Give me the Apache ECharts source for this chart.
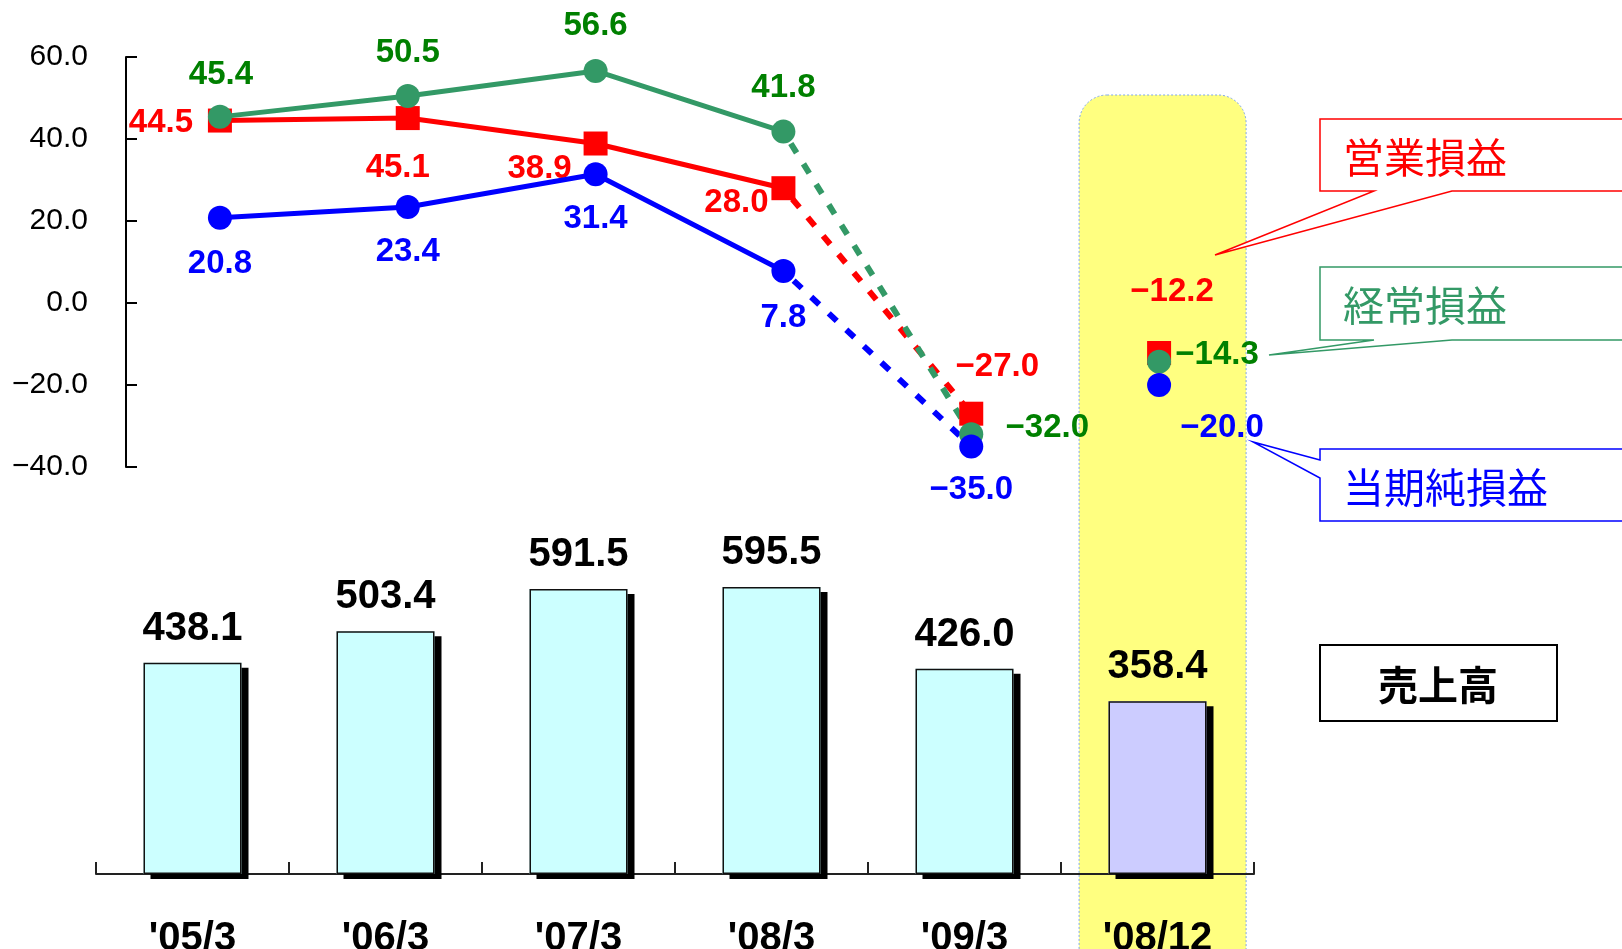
<!DOCTYPE html>
<html><head><meta charset="utf-8">
<script src="https://cdn.jsdelivr.net/npm/echarts@6/dist/echarts.min.js"></script>
<style>html,body{margin:0;padding:0;background:#fff}#c{width:1622px;height:949px}</style>
</head><body><div id="c"></div>
<script>
// ---- data ----
const categories = ["'05/3", "'06/3", "'07/3", "'08/3", "'09/3", "'08/12"];
const sales = [438.1, 503.4, 591.5, 595.5, 426.0, 358.4];
const operatingIncome = [44.5, 45.1, 38.9, 28.0, -27.0, -12.2];
const ordinaryIncome = [45.4, 50.5, 56.6, 41.8, -32.0, -14.3];
const netIncome = [20.8, 23.4, 31.4, 7.8, -35.0, -20.0];
const seriesNames = ['営業損益', '経常損益', '当期純損益'];
const salesName = '売上高';
const lastActualIdx = 3;   // '08/3
const forecastIdx = 4;     // '09/3 (forecast, joined by dotted line)
const highlightIdx = 5;    // '08/12

// ---- label placement (style only: px offsets of each label from its point) ----
const opLabelOffsets = [[-59, 2], [-10, 50], [-56, 25], [-47, 15], [26, -47], [13, -61]];
const ordLabelOffsets = [[1, -42], [0, -43], [0, -45], [0, -44], [76, -6], [58, -7]];
const netLabelOffsets = [[0, 46], [0, 45], [0, 45], [0, 47], [0, 43], [63, 43]];

const NUM_FONT = 'Liberation Sans';
const JP_FONT = 'Noto Sans CJK JP';

function fmt(v) { const s = Math.abs(v).toFixed(1); return v < 0 ? '\u2212' + s : s; }

function lineGroup(name, values, offsets, color, labelColor, symbol, z) {
  const labelBase = {
    show: true, position: 'inside', color: labelColor, fontFamily: NUM_FONT,
    fontWeight: 'bold', fontSize: 33, formatter: p => fmt(p.value)
  };
  const item = (v, i) => ({ value: v, label: { offset: offsets[i] } });
  return [
    { type: 'line', name: name + '_f', xAxisIndex: 0, yAxisIndex: 0, z: 1,
      data: values.map((v, i) => (i === lastActualIdx || i === forecastIdx) ? v : '-'),
      symbol: 'none', showSymbol: false, connectNulls: false,
      lineStyle: { color, width: 6, type: [11, 13], dashOffset: -14 } },
    { type: 'line', name, xAxisIndex: 0, yAxisIndex: 0, z,
      data: values.map((v, i) => i <= lastActualIdx ? item(v, i) : '-'),
      symbol, symbolSize: 24, showAllSymbol: true,
      lineStyle: { color, width: 5 }, itemStyle: { color }, label: labelBase },
    { type: 'scatter', name: name + '_p', xAxisIndex: 0, yAxisIndex: 0, z,
      data: values.map((v, i) => i >= forecastIdx ? item(v, i) : '-'),
      symbol, symbolSize: 24, itemStyle: { color, opacity: 1 }, label: labelBase }
  ];
}

const chart = echarts.init(document.getElementById('c'), null, { renderer: 'canvas' });

const barColors = sales.map((v, i) => i === highlightIdx ? '#CCCCFF' : '#CCFFFF');

const option = {
  animation: false,
  backgroundColor: '#ffffff',
  grid: [
    { left: 126, top: 57, width: 1127, height: 410, outerBoundsMode: 'none', containLabel: false },
    { left: 96, top: 392, width: 1158, height: 482, outerBoundsMode: 'none', containLabel: false }
  ],
  xAxis: [
    { type: 'category', gridIndex: 0, data: categories, boundaryGap: true, show: false },
    { type: 'category', gridIndex: 1, data: categories, boundaryGap: true,
      axisLine: { show: true, lineStyle: { color: '#222', width: 2 } },
      axisTick: { show: true, inside: true, length: 12, interval: 0, lineStyle: { color: '#222', width: 2 } },
      axisLabel: { margin: 45, fontSize: 40, fontWeight: 'bold', color: '#000', fontFamily: NUM_FONT, lineHeight: 40 } }
  ],
  yAxis: [
    { type: 'value', gridIndex: 0, min: -40, max: 60, interval: 20,
      axisLine: { show: true, lineStyle: { color: '#000', width: 2 } },
      axisTick: { show: true, inside: true, length: 11, lineStyle: { color: '#000', width: 2 } },
      splitLine: { show: false },
      axisLabel: { margin: 38, fontSize: 30, color: '#000', fontFamily: NUM_FONT, padding: [6, 0, 0, 0], formatter: v => fmt(v) } },
    { type: 'value', gridIndex: 1, min: 0, max: 1000, show: false, splitLine: { show: false } }
  ],
  series: [
    { type: 'bar', name: salesName + '_s', xAxisIndex: 1, yAxisIndex: 1, barWidth: 98, barGap: '-100%', z: 2,
      data: sales.map((v, i) => ({ value: v, itemStyle: { color: barColors[i] } })),
      itemStyle: { borderWidth: 0, shadowColor: '#000', shadowOffsetX: 7, shadowOffsetY: 5, shadowBlur: 0 } },
    { type: 'bar', name: salesName, xAxisIndex: 1, yAxisIndex: 1, barWidth: 98, barGap: '-100%', z: 2,
      data: sales.slice(),
      itemStyle: { color: 'rgba(0,0,0,0)', borderColor: '#111', borderWidth: 1.5 },
      label: { show: true, position: 'top', distance: 14, fontSize: 40, fontWeight: 'bold', color: '#000', fontFamily: NUM_FONT,
               formatter: p => fmt(p.value) } },
    ...lineGroup(seriesNames[0], operatingIncome, opLabelOffsets, '#FF0000', '#FF0000', 'rect', 3),
    ...lineGroup(seriesNames[1], ordinaryIncome, ordLabelOffsets, '#339966', '#008000', 'circle', 4),
    ...lineGroup(seriesNames[2], netIncome, netLabelOffsets, '#0000FF', '#0000FF', 'circle', 5)
  ]
};
chart.setOption(option);

// highlight column + callouts (annotation layout)
const cx = chart.convertToPixel({ xAxisIndex: 0 }, categories[highlightIdx]);
function callout(points, color, text, tx, ty) {
  return [
    { type: 'polygon', z: 100, shape: { points }, style: { fill: '#fff', stroke: color, lineWidth: 1.5 } },
    { type: 'text', z: 101, x: tx, y: ty, style: { text, fill: color, font: '41px "' + JP_FONT + '"', textVerticalAlign: 'middle', textAlign: 'left' } }
  ];
}
chart.setOption({
  graphic: [
    { type: 'rect', z: -1, silent: true, shape: { x: cx - 80, y: 95, width: 167, height: 900, r: [28, 28, 0, 0] },
      style: { fill: '#FFFF80', stroke: '#7FA8E8', lineWidth: 1, lineDash: [2, 2] } },
    ...callout([[1320, 119], [1650, 119], [1650, 191], [1452, 191], [1215, 255], [1374, 191], [1320, 191]], '#FF0000', seriesNames[0], 1343, 157),
    ...callout([[1320, 267], [1650, 267], [1650, 340], [1452, 340], [1269, 355], [1374, 340], [1320, 340]], '#339966', seriesNames[1], 1343, 305),
    ...callout([[1320, 449], [1650, 449], [1650, 521], [1320, 521], [1320, 478], [1253, 442], [1320, 460]], '#0000FF', seriesNames[2], 1343, 487),
    { type: 'rect', z: 100, shape: { x: 1320, y: 645, width: 237, height: 76 }, style: { fill: '#fff', stroke: '#000', lineWidth: 2 } },
    { type: 'text', z: 101, x: 1438, y: 685, style: { text: salesName, fill: '#000', font: 'bold 40px "' + JP_FONT + '"', textAlign: 'center', textVerticalAlign: 'middle' } }
  ]
});
</script></body></html>
